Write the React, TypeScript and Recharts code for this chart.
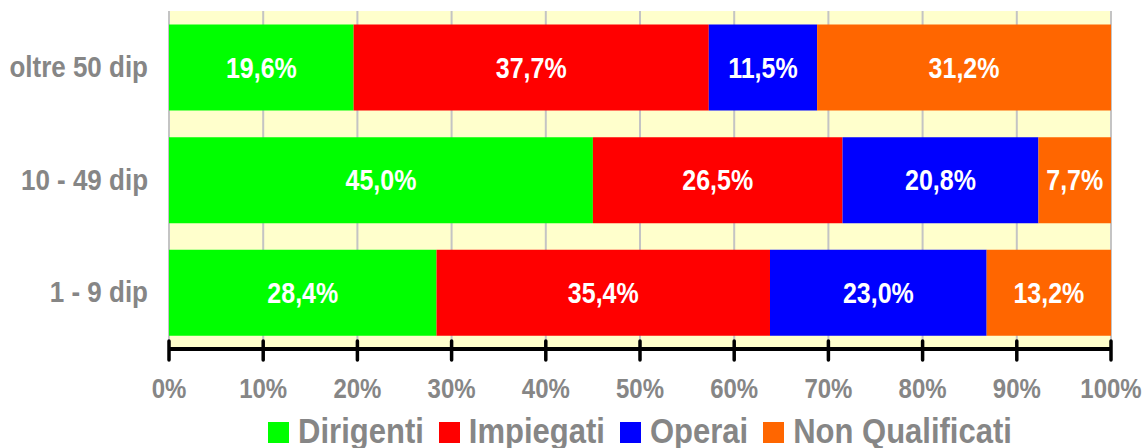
import React from "react";
import { BarChart, Bar, XAxis, YAxis, CartesianGrid, LabelList } from "recharts";

const categories = ["oltre 50 dip", "10 - 49 dip", "1 - 9 dip"];
const dirigenti = [19.6, 45.0, 28.4];
const impiegati = [37.7, 26.5, 35.4];
const operai = [11.5, 20.8, 23.0];
const nonQualificati = [31.2, 7.7, 13.2];

const seriesNames = ["Dirigenti", "Impiegati", "Operai", "Non Qualificati"];
const seriesKeys = ["dirigenti", "impiegati", "operai", "nonQualificati"];
const seriesColors = ["#00FF00", "#FF0000", "#0000FF", "#FF6600"];
const xTicks = [0, 10, 20, 30, 40, 50, 60, 70, 80, 90, 100];

const FONT = "'Liberation Sans', Arial, sans-serif";
const GREY = "#868686";
const STRETCH = 1.15; // the original text is a bit taller than plain Arial

const data = categories.map((name, i) => ({
  name,
  dirigenti: dirigenti[i],
  impiegati: impiegati[i],
  operai: operai[i],
  nonQualificati: nonQualificati[i],
}));

const fmt = (v: number) => v.toFixed(1).replace(".", ",") + "%";

function XTick({ x, y, payload }: any) {
  return (
    <g>
      <line x1={x} x2={x} y1={y - 10} y2={y + 9} stroke="#000" strokeWidth={3.5} strokeLinecap="round" />
      <text
        transform={`translate(${x},${y + 47}) scale(1,${STRETCH})`}
        textAnchor="middle"
        fill={GREY}
        fontSize={24}
        fontWeight="bold"
        fontFamily={FONT}
      >
        {payload.value}%
      </text>
    </g>
  );
}

function YTick({ x, y, payload }: any) {
  return (
    <text
      transform={`translate(${x},${y + 9.5}) scale(1,${STRETCH})`}
      textAnchor="end"
      fill={GREY}
      fontSize={26}
      fontWeight="bold"
      fontFamily={FONT}
    >
      {payload.value}
    </text>
  );
}

function BarLabel({ x, y, width, height, value }: any) {
  const cx = Number(x) + Number(width) / 2;
  const cy = Number(y) + Number(height) / 2;
  return (
    <text
      transform={`translate(${cx},${cy + 10}) scale(1,${STRETCH})`}
      textAnchor="middle"
      fill="#FFFFFF"
      fontSize={25}
      fontWeight="bold"
      fontFamily={FONT}
    >
      {fmt(Number(value))}
    </text>
  );
}

export default function App() {
  return (
    <div style={{ position: "absolute", left: 0, top: 0, width: 1147, height: 448, background: "#fff" }}>
      <BarChart
        width={1147}
        height={448}
        data={data}
        layout="vertical"
        barCategoryGap="12%"
        margin={{ top: 11, right: 36, left: 0, bottom: 0 }}
      >
        <CartesianGrid horizontal={false} stroke="#C4C4C4" strokeWidth={2} fill="#FFFFCC" verticalValues={xTicks} />
        <XAxis
          type="number"
          domain={[0, 100]}
          ticks={xTicks}
          height={99}
          axisLine={{ stroke: "#000", strokeWidth: 4 }}
          tickLine={false}
          tickSize={0}
          tick={<XTick />}
          interval={0}
        />
        <YAxis
          type="category"
          dataKey="name"
          width={169}
          axisLine={false}
          tickLine={false}
          tickSize={0}
          tickMargin={21}
          tick={<YTick />}
        />
        {seriesKeys.map((k, i) => (
          <Bar key={k} dataKey={k} name={seriesNames[i]} stackId="a" fill={seriesColors[i]} isAnimationActive={false}>
            <LabelList dataKey={k} content={<BarLabel />} />
          </Bar>
        ))}
      </BarChart>
      <div
        style={{
          position: "absolute",
          left: 169,
          width: 942,
          top: 415,
          height: 31,
          display: "flex",
          justifyContent: "center",
          alignItems: "center",
          fontFamily: FONT,
          fontWeight: "bold",
          fontSize: 31,
          lineHeight: "31px",
          color: GREY,
        }}
      >
        {seriesNames.map((n, i) => (
          <div key={n} style={{ display: "flex", alignItems: "center", marginLeft: i ? 15 : 0 }}>
            <span style={{ width: 21, height: 21, background: seriesColors[i], marginRight: 9, display: "inline-block", marginTop: 3 }} />
            <span style={{ display: "inline-block", transform: `scaleY(${STRETCH})` }}>{n}</span>
          </div>
        ))}
      </div>
    </div>
  );
}
